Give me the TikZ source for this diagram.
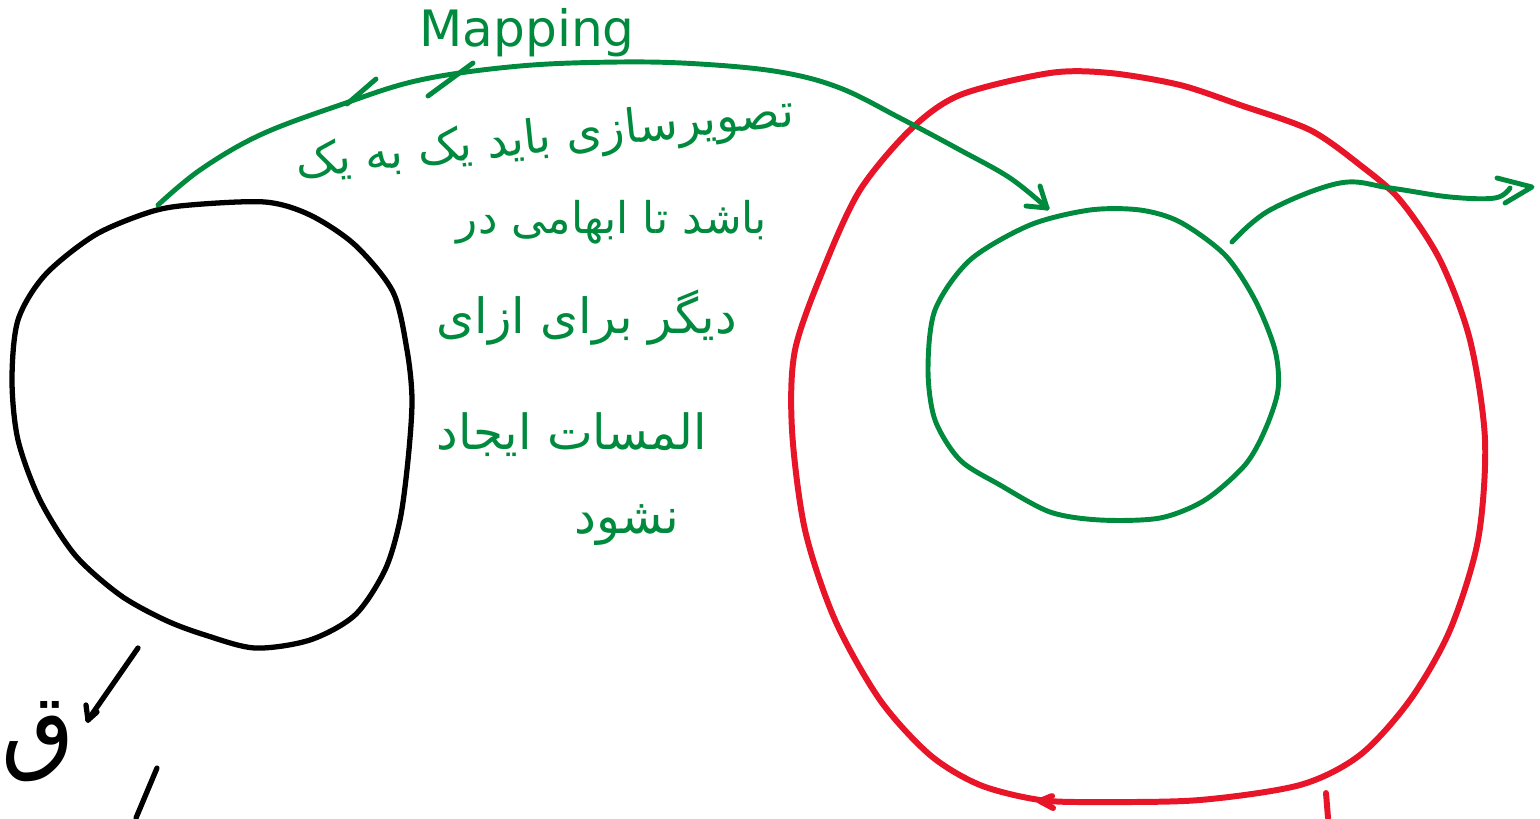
\documentclass[tikz,border=0pt]{standalone}
\usepackage{fontspec}
\TeXXeTstate=1
\newfontfamily\arabicfont[Script=Arabic]{DejaVu Sans}
\setmainfont{DejaVu Sans}
\definecolor{pgreen}{RGB}{0,138,62}
\definecolor{pred}{RGB}{232,20,40}
\tikzset{
  blackink/.style={draw=black,line width=1.5pt,line cap=round,line join=round},
  greenink/.style={draw=pgreen,line width=1.4pt,line cap=round,line join=round},
  redink/.style={draw=pred,line width=1.7pt,line cap=round,line join=round},
  fatxt/.style={text=pgreen,inner sep=0pt},
}
\begin{document}
\begin{tikzpicture}[x=0.01cm,y=-0.01cm]
\useasboundingbox (0,0) rectangle (1540,818);
% black blob (domain)
\draw[blackink] plot[smooth cycle,tension=0.5] coordinates {
 (190,205) (265,202) (310,215) (355,245) (393,292) (407,350) (412,400) (408,460)
 (400,520) (385,570) (355,615) (310,640) (255,648) (205,635) (165,620) (120,595)
 (75,555) (40,500) (18,440) (12,380) (18,320) (45,275) (95,235) (150,212)};
% black arrow
\coordinate (ba1) at (138,648); \coordinate (ba2) at (88,720);
\draw[blackink] (ba1) -- (ba2);
\draw[blackink] (ba2) -- (86,705);
\draw[blackink] (ba2) -- (97,712);
\coordinate (bl1) at (157,768); \coordinate (bl2) at (136,818);
\draw[blackink] (bl1) -- (bl2);
\node[inner sep=0pt] (q) at (38,742) {\resizebox{!}{0.6cm}{\arabicfont\beginR ق\endR}};
% red circle (codomain)
\draw[redink] plot[smooth cycle,tension=0.5] coordinates {
 (1050,73) (1110,73) (1180,85) (1240,105) (1310,130) (1360,165) (1400,200) (1440,260)
 (1470,340) (1485,440) (1478,540) (1450,630) (1410,700) (1360,755) (1300,785) (1200,800)
 (1100,802) (1040,800) (980,785) (930,755) (880,700) (835,620) (805,530) (792,430)
 (795,350) (825,265) (860,190) (910,130) (960,95)};
\coordinate (rt) at (1040,801);
\draw[redink] (rt) -- (1052,796);
\draw[redink] (rt) -- (1053,808);
\coordinate (rs1) at (1326,793); \coordinate (rs2) at (1328,818);
\draw[redink] (rs1) -- (rs2);
% green inner circle (image)
\draw[greenink] plot[smooth cycle,tension=0.5] coordinates {
 (1090,210) (1140,210) (1180,222) (1225,255) (1255,300) (1275,350) (1278,390) (1265,430)
 (1245,465) (1205,500) (1160,518) (1100,520) (1050,512) (1000,485) (960,460) (935,420)
 (928,370) (935,310) (970,260) (1030,225)};
% mapping arc
\coordinate (m0) at (158,205); \coordinate (m1) at (1047,208);
\draw[greenink] plot[smooth,tension=0.6] coordinates {
 (m0) (200,170) (260,135) (340,105) (420,80) (520,66) (620,62) (700,64) (780,72)
 (840,88) (900,118) (960,150) (1010,178) (m1)};
\draw[greenink] (m1) -- (1040,186);
\draw[greenink] (m1) -- (1026,206);
\draw[greenink] (347,104) -- (376,79);
\draw[greenink] (428,96) -- (473,63);
% second green arrow
\coordinate (g0) at (1232,242); \coordinate (g1) at (1532,187);
\draw[greenink] plot[smooth,tension=0.6] coordinates {
 (g0) (1270,210) (1340,183) (1390,188) (1450,197) (1495,198) (1510,188)};
\draw[greenink] (1497,178) -- (g1) -- (1505,203);
% texts
\node[fatxt] (map) at (527,33) {\resizebox{2.15cm}{!}{Mapping}};
\node[fatxt,rotate=6] (t1) at (545,140) {\resizebox{5cm}{!}{\arabicfont\beginR تصویرسازی باید یک به یک\endR}};
\node[fatxt] (t2) at (612,222) {\resizebox{3.1cm}{!}{\arabicfont\beginR باشد تا ابهامی در\endR}};
\node[fatxt] (t3) at (587,318) {\resizebox{3.0cm}{!}{\arabicfont\beginR دیگر برای ازای\endR}};
\node[fatxt] (t4) at (572,435) {\resizebox{2.7cm}{!}{\arabicfont\beginR المسات ایجاد\endR}};
\node[fatxt] (t5) at (627,525) {\resizebox{1.05cm}{!}{\arabicfont\beginR نشود\endR}};
\end{tikzpicture}
\end{document}
